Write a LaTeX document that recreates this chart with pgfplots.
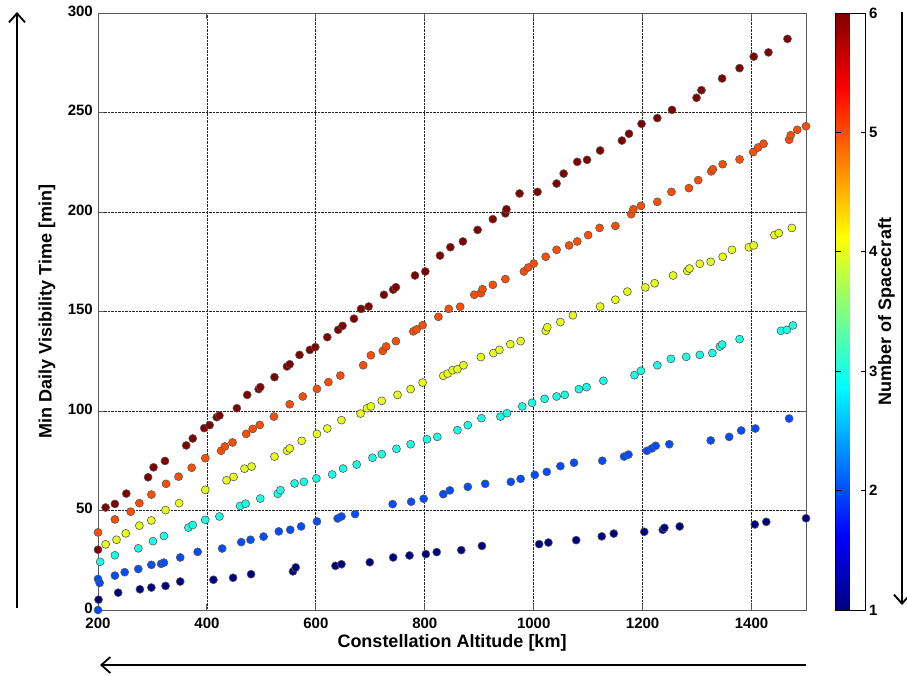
\documentclass[border=0pt]{standalone}
\usepackage{pgfplots}
\pgfplotsset{compat=1.18}
\usepackage{pgfplotstable}
\usepackage{fontspec}
\setmainfont{Liberation Sans}
\usetikzlibrary{arrows.meta}
\pgfplotstableread{
x y c
200 30.3 6
214 51.5 6
231 53.3 6
252 58.5 6
292 66.7 6
302 71.7 6
323 74.9 6
362 82.7 6
374 86.2 6
395 91.4 6
405 92.9 6
418 96.9 6
423 97.7 6
455 101.4 6
474 108.1 6
495 111.0 6
498 112.0 6
524 117.0 6
547 122.4 6
552 123.5 6
570 128.2 6
589 130.7 6
599 132.1 6
621 137.1 6
641 140.8 6
649 142.8 6
670 146.4 6
683 151.3 6
697 152.5 6
725 158.4 6
742 161.0 6
747 162.2 6
782 168.1 6
801 170.1 6
828 178.1 6
847 182.3 6
870 185.2 6
897 191.0 6
925 196.4 6
948 199.3 6
950 201.4 6
974 209.3 6
1007 210.1 6
1042 214.3 6
1055 219.3 6
1080 225.2 6
1098 226.2 6
1122 230.9 6
1162 235.9 6
1175 239.3 6
1198 244.3 6
1227 247.2 6
1254 251.3 6
1299 257.4 6
1308 261.2 6
1346 267.1 6
1378 272.3 6
1404 278.1 6
1431 280.2 6
1466 287.0 6
200 39 5
231 45.5 5
260 49.4 5
276 53.7 5
298 58 5
325 63.4 5
348 67 5
372 71.5 5
397 76.3 5
426 80 5
433 82.2 5
447 84.2 5
472 88.5 5
484 91 5
497 93 5
523 97.2 5
552 103.4 5
576 107.3 5
602 111.1 5
623 114.5 5
645 117.8 5
687 123 5
701 128 5
723 130.2 5
729 132.4 5
747 135.1 5
779 140 5
785 141 5
796 143.1 5
825 147.3 5
844 151.3 5
865 152.4 5
891 158.4 5
903 159.2 5
906 161.2 5
925 163.4 5
948 166.3 5
982 170.1 5
990 172.1 5
1000 174.1 5
1022 177.5 5
1042 181 5
1065 183.2 5
1080 185.2 5
1100 188.4 5
1121 192 5
1150 193 5
1179 198.9 5
1183 201.4 5
1197 203.1 5
1227 205.1 5
1253 210.1 5
1285 212 5
1302 216 5
1326 220.4 5
1329 221.5 5
1347 224 5
1378 226.4 5
1403 230.1 5
1412 232.4 5
1422 234.3 5
1469 236.3 5
1472 238.6 5
1484 241.3 5
1500 243.1 5
214 33 4
234 35.3 4
251 38.5 4
276 42.4 4
298 45 4
324 50.2 4
349 53.7 4
397 60.4 4
436 65.2 4
449 66.9 4
469 71 4
482 72.1 4
524 77.1 4
547 80 4
552 81.2 4
574 85 4
602 88.5 4
621 91.2 4
647 95.4 4
682 98.7 4
694 101.4 4
701 102.3 4
721 105.1 4
750 108.1 4
774 111 4
796 114.3 4
834 117.7 4
842 118.8 4
851 120.5 4
860 121 4
871 123 4
903 127.1 4
926 129.1 4
937 130.7 4
957 133.6 4
976 135.1 4
1022 140.3 4
1025 142.1 4
1049 144.7 4
1072 148.1 4
1122 152.5 4
1150 155.9 4
1172 160 4
1205 162.1 4
1222 164.2 4
1256 168.1 4
1282 170.4 4
1286 171.6 4
1305 174 4
1325 175 4
1347 177.5 4
1364 181 4
1395 182.3 4
1404 183.2 4
1442 188.4 4
1450 189.4 4
1474 192 4
204 24.2 3
231 27.5 3
274 31 3
301 34.6 3
321 37.2 3
366 41.4 3
374 42.7 3
397 45.3 3
423 47 3
461 52.3 3
471 53.4 3
498 56 3
530 58.4 3
535 60.2 3
561 63.6 3
578 64.4 3
601 66.1 3
630 68.1 3
650 71.1 3
675 73.1 3
704 76.5 3
721 78.3 3
748 81 3
774 83.3 3
804 85.8 3
823 87 3
860 90.4 3
879 92.9 3
904 96.4 3
939 97.2 3
951 98.9 3
979 102.3 3
997 104.1 3
1020 106.1 3
1042 107.3 3
1057 108.1 3
1083 111 3
1097 112 3
1128 115.2 3
1185 118 3
1197 120.2 3
1227 123 3
1252 126.2 3
1280 127.2 3
1305 128.2 3
1328 129.1 3
1342 132.4 3
1346 133.4 3
1378 136.1 3
1454 140.3 3
1465 140.8 3
1476 143 3
200 15.6 2
203 13.6 2
231 17.3 2
249 19 2
274 20.6 2
298 22.7 2
316 23.2 2
321 23.8 2
351 26.4 2
383 29.2 2
428 30.9 2
463 34.1 2
480 35.3 2
504 36.9 2
532 39.5 2
553 40.3 2
573 42 2
602 44.5 2
640 46 2
647 47 2
672 48.2 2
741 53.2 2
775 54.4 2
798 55.9 2
834 58.2 2
846 60.1 2
879 61.9 2
911 63.4 2
958 64.4 2
976 65.9 2
1002 67.9 2
1024 69.4 2
1049 72.3 2
1074 74 2
1126 75 2
1166 77.1 2
1174 78.1 2
1208 80 2
1217 81.2 2
1224 82.5 2
1249 83.3 2
1325 85.2 2
1359 87 2
1381 90.2 2
1407 91.2 2
1469 96.2 2
200 0 2
201 5.2 1
237 8.7 1
277 10.4 1
298 11.3 1
324 12.1 1
351 14.3 1
412 15.2 1
448 16.2 1
481 18 1
558 19.4 1
563 21.4 1
636 22.2 1
647 23 1
699 24 1
742 26.4 1
772 27.4 1
802 28.1 1
822 29.1 1
867 30.1 1
905 32.2 1
1010 33.1 1
1027 33.9 1
1078 35.1 1
1125 37 1
1147 38.4 1
1203 39.3 1
1237 40.3 1
1240 41.3 1
1268 42 1
1406 43 1
1427 44.3 1
1500 46.1 1
}\data
\begin{document}
\begin{tikzpicture}[x=1pt,y=1pt]
\useasboundingbox (0,0) rectangle (907,675);
\begin{axis}[
  at={(98pt,65pt)}, anchor=south west,
  scale only axis, width=708pt, height=597pt,
  xmin=200, xmax=1500, ymin=0, ymax=300,
  xtick={200,400,...,1400}, ytick={0,50,...,300},
  grid=major,
  grid style={densely dotted, black!85, line width=0.8pt},
  tick align=inside, xtick pos=both, ytick pos=both,
  major tick length=6pt,
  axis line style={black!65, line width=0.9pt},
  tick style={black!65, line width=0.9pt},
  ticklabel style={font=\fontsize{15}{15}\selectfont\bfseries, inner sep=1pt},
  xticklabel style={yshift=-7pt},
  yticklabel style={xshift=-4pt, yshift=2pt},
  /pgf/number format/assume math mode=true,
  /pgf/number format/1000 sep={},
  xlabel={Constellation Altitude [km]},
  ylabel={Min Daily Visibility Time [min]},
  xlabel style={font=\fontsize{18}{18}\selectfont\bfseries, at={(axis description cs:0.5,0)}, anchor=center, yshift=-33pt},
  ylabel style={font=\fontsize{18}{18}\selectfont\bfseries, at={(axis description cs:0,0.5)}, anchor=center, yshift=51pt},
  colormap/jet, point meta min=1, point meta max=6,
  colorbar,
  colorbar style={
    at={(parent axis.north east)}, anchor=north west, xshift=21pt,
    scale only axis, width=30pt, height=597pt,
    ytick={1,2,3,4,5,6}, ytick pos=both, yticklabel pos=right,
    tick align=inside, major tick length=5pt,
    tick style={black, line width=0.8pt},
    axis line style={black, line width=0.8pt},
    /pgf/number format/assume math mode=true,
    ticklabel style={font=\fontsize{15}{15}\selectfont\bfseries},
    ylabel={Number of Spacecraft},
    every axis y label/.style={at={(axis description cs:1,0.5)}, rotate=90, anchor=center, yshift=-21pt, font=\fontsize{18}{18}\selectfont\bfseries},
  },
  clip=false,
]
\addplot[scatter, only marks, mark=*, mark size=4pt, scatter src=explicit,
  scatter/use mapped color={draw=black!65, fill=mapped color, line width=0.6pt}]
  table[x=x,y=y,meta=c]{\data};
\end{axis}
\draw[line width=1.8pt, -{Straight Barb[length=9pt,width=16pt,line width=1.8pt]}] (17,67) -- (17,663);
\draw[line width=1.8pt, -{Straight Barb[length=9pt,width=16pt,line width=1.8pt]}] (902,663) -- (902,70);
\draw[line width=1.8pt, -{Straight Barb[length=9pt,width=16pt,line width=1.8pt]}] (806,10) -- (100,10);
\end{tikzpicture}
\end{document}
